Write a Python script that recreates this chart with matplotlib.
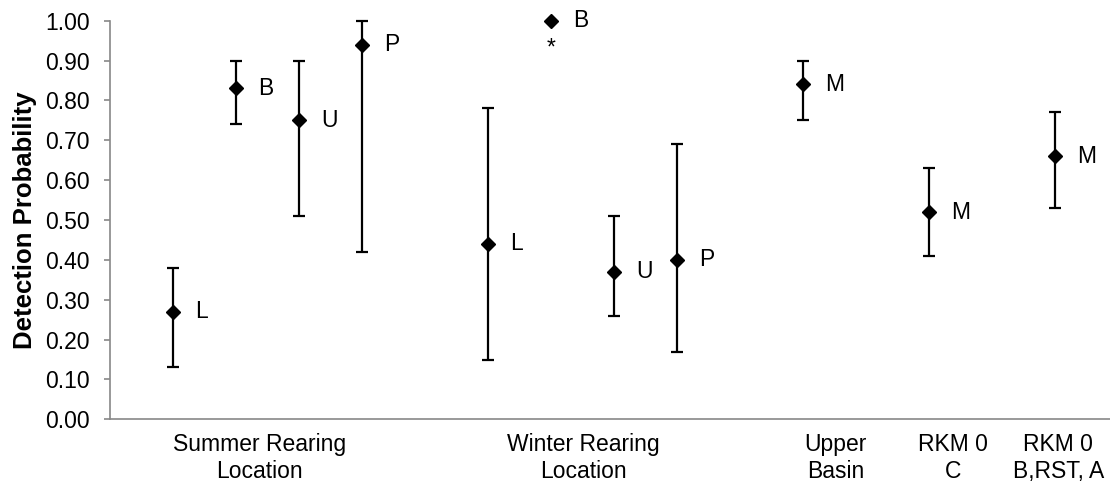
import numpy as np
import matplotlib.pyplot as plt

plt.rcParams['font.family'] = ['Liberation Sans', 'DejaVu Sans']

# Detection probability estimates with 95% CI
site_x = [1, 2, 3, 4, 6, 7, 8, 9, 11, 13, 15]
site_code = ['L', 'B', 'U', 'P', 'L', 'B', 'U', 'P', 'M', 'M', 'M']
estimate = [0.27, 0.83, 0.75, 0.94, 0.44, 1.00, 0.37, 0.40, 0.84, 0.52, 0.66]
ci_low = [0.13, 0.74, 0.51, 0.42, 0.15, np.nan, 0.26, 0.17, 0.75, 0.41, 0.53]
ci_high = [0.38, 0.90, 0.90, 1.00, 0.78, np.nan, 0.51, 0.69, 0.90, 0.63, 0.77]

group_x = [2.37, 7.51, 11.52, 13.38, 15.05]
group_labels = ['Summer Rearing\nLocation', 'Winter Rearing\nLocation',
                'Upper\nBasin', 'RKM 0\nC', 'RKM 0\nB,RST, A']

x = np.array(site_x, dtype=float)
y = np.array(estimate)
lo = np.array(ci_low)
hi = np.array(ci_high)
has_ci = ~np.isnan(lo)

fig = plt.figure(figsize=(11.1, 4.87), dpi=100)
ax = fig.add_axes([0.0991, 0.139, 0.9009, 0.8186])

ax.errorbar(x[has_ci], y[has_ci],
            yerr=[y[has_ci] - lo[has_ci], hi[has_ci] - y[has_ci]],
            fmt='none', ecolor='black', elinewidth=1.6, capsize=4.6,
            capthick=1.6, clip_on=False, zorder=2)
ax.plot(x, y, linestyle='none', marker='D', markersize=7.6,
        color='black', clip_on=False, zorder=3)

for xi, yi, code in zip(x, y, site_code):
    ax.annotate(code, (xi, yi), xytext=(16, 0), textcoords='offset points',
                ha='left', va='center', fontsize=16.5, color='black')

# estimate of 1.00 without a CI
ax.text(7, 0.932, '*', ha='center', va='center', fontsize=16.5, color='black')

ax.set_xlim(0, 15.87)
ax.set_ylim(0, 1.0)
ax.set_yticks(np.arange(0, 1.01, 0.1))
ax.set_yticklabels(['%.2f' % v for v in np.arange(0, 1.01, 0.1)])
ax.set_xticks(group_x)
ax.set_xticklabels(group_labels, linespacing=1.22)

ax.set_ylabel('Detection Probability', fontsize=18.5, fontweight='bold')
ax.yaxis.set_label_coords(-0.073, 0.5)

for side in ['top', 'right']:
    ax.spines[side].set_visible(False)
for side in ['left', 'bottom']:
    ax.spines[side].set_color('#888888')
    ax.spines[side].set_linewidth(1.2)

ax.tick_params(axis='y', direction='out', length=4.5, width=1.2,
               color='#888888', labelsize=16.5, pad=10)
ax.tick_params(axis='x', length=0, labelsize=16.5, pad=10)

fig.savefig('out.png', dpi=100)
